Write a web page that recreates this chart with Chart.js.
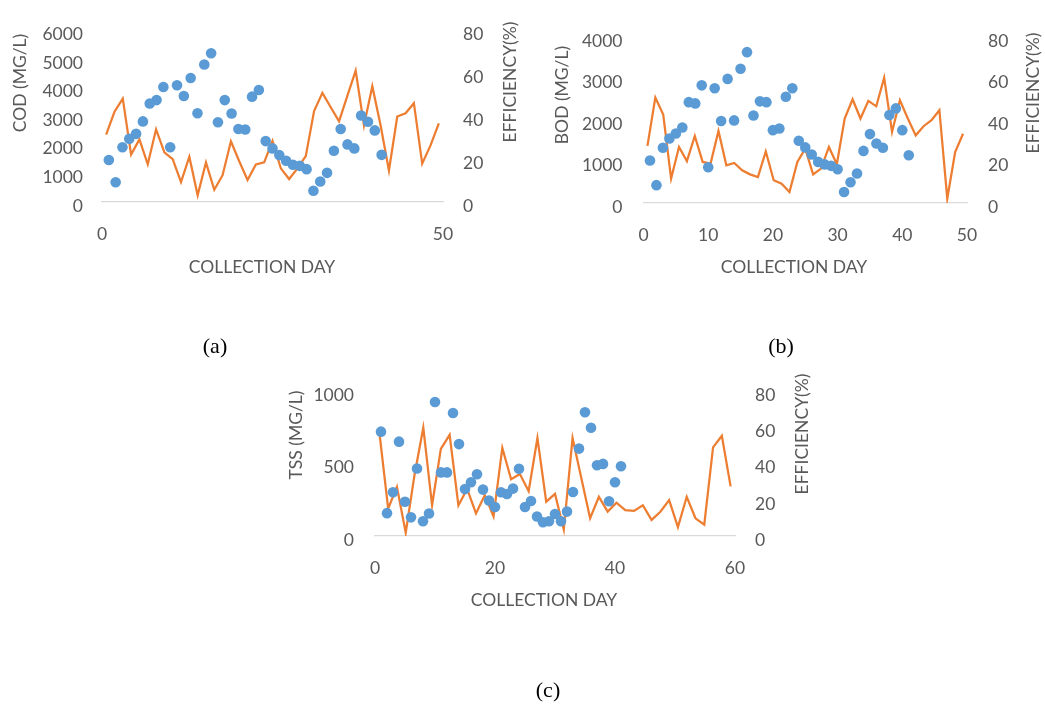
<!DOCTYPE html>
<html>
<head>
<meta charset="utf-8">
<script src="https://cdn.jsdelivr.net/npm/chart.js@4.4.0/dist/chart.umd.min.js"></script>
<style>
  body { margin: 0; background: #fff; width: 1045px; height: 704px; position: relative; overflow: hidden; }
  canvas { position: absolute; }
</style>
</head>
<body>
<canvas id="chartA" width="540" height="370" style="left:0px;top:0px"></canvas>
<canvas id="chartB" width="505" height="370" style="left:540px;top:0px"></canvas>
<canvas id="chartC" width="590" height="344" style="left:260px;top:360px"></canvas>
<script>
// collection days of the samples (scatter x) and the categories of the efficiency line
var days = [1,2,3,4,5,6,7,8,9,10,11,12,13,14,15,16,17,18,19,20,21,22,23,24,25,26,27,28,29,30,31,32,33,34,35,36,37,38,39,40,41];
var lineDays = ['1','2','3','4','5','6','7','8','9','10','11','12','13','14','15','16','17','18','19','20','21','22','23','24','25','26','27','28','29','30','31','32','33','34','35','36','37','38','39','40','41'];

var codValues = [1470, 690, 1915, 2210, 2385, 2820, 3445, 3565, 4025, 1915, 4085, 3710, 4340, 3105, 4810, 5205, 2790, 3565, 3095, 2555, 2535, 3685, 3920, 2130, 1875, 1640, 1445, 1305, 1265, 1150, 395, 715, 1020, 1795, 2555, 2015, 1875, 3025, 2810, 2505, 1650];
var codEfficiency = [31.4, 42.1, 48.2, 22.1, 29.2, 17.6, 33.9, 23.2, 20.0, 9.3, 21.1, 3.1, 18.4, 5.7, 12.5, 28.3, 19.0, 10.3, 17.5, 18.5, 28.5, 15.7, 10.7, 15.7, 21.4, 42.4, 50.9, 44.2, 37.6, 49.5, 61.3, 35.7, 54.0, 35.7, 14.7, 39.9, 41.4, 46.1, 17.9, 26.4, 36.7];

var bodValues = [1025, 430, 1330, 1555, 1675, 1820, 2430, 2400, 2835, 860, 2765, 1975, 2990, 1990, 3235, 3635, 2110, 2450, 2430, 1755, 1795, 2560, 2765, 1500, 1340, 1170, 990, 930, 895, 815, 265, 500, 710, 1255, 1660, 1435, 1330, 2120, 2280, 1755, 1150];
var bodEfficiency = [27.5, 50.8, 42.6, 11.8, 27.0, 20.2, 32.3, 19.8, 19.0, 34.7, 18.2, 19.3, 15.8, 13.8, 12.5, 24.8, 11.0, 9.3, 5.3, 19.8, 26.2, 13.8, 16.6, 27.0, 18.7, 40.7, 50.0, 40.7, 49.2, 46.6, 60.4, 34.2, 49.5, 40.7, 32.6, 37.0, 39.9, 44.7, 2.1, 24.6, 33.4];

var tssValues = [722, 158, 303, 653, 237, 129, 467, 102, 156, 927, 440, 440, 851, 636, 325, 372, 427, 321, 246, 201, 303, 291, 328, 465, 201, 242, 135, 95, 102, 152, 102, 169, 305, 605, 856, 749, 490, 499, 240, 372, 483];
var tssEfficiency = [57.3, 15.2, 27.1, 1.8, 33.8, 60.0, 17.0, 48.2, 56.0, 17.0, 26.0, 12.5, 22.6, 10.8, 48.8, 31.4, 34.3, 24.8, 54.2, 19.0, 23.3, 3.6, 54.2, 32.0, 9.8, 21.7, 13.5, 18.4, 14.3, 13.9, 17.0, 8.9, 13.4, 19.9, 4.9, 21.7, 9.8, 6.3, 49.1, 55.5, 27.5];

var blue = '#5B9BD5';
var orange = '#ED7D31';
var grey = '#595959';
var tickFont = { family: 'Lato', size: 17.5 };
var titleFont = '17.5px Lato';
var captionFont = '22px "Liberation Serif"';

// draws the axis titles and the (a)/(b)/(c) captions where the original has them
var freeText = {
  id: 'freeText',
  afterDraw: function(chart, args, opts) {
    var ctx = chart.ctx;
    opts.items.forEach(function(t) {
      ctx.save();
      ctx.translate(t.x, t.y);
      if (t.rot) ctx.rotate(-Math.PI / 2);
      ctx.font = t.caption ? captionFont : titleFont;
      ctx.fillStyle = t.caption ? '#000' : grey;
      ctx.textAlign = 'center';
      ctx.textBaseline = 'middle';
      ctx.fillText(t.text, 0, 0);
      ctx.restore();
    });
  }
};

function makePanel(id, p) {
  var points = days.map(function(d, i) { return { x: d, y: p.values[i] }; });
  new Chart(document.getElementById(id), {
    type: 'scatter',
    data: {
      datasets: [{
        label: p.name,
        data: points,
        backgroundColor: blue,
        borderWidth: 0,
        pointRadius: 5.3,
        xAxisID: 'x',
        yAxisID: 'y'
      }, {
        type: 'line',
        label: 'EFFICIENCY(%)',
        data: p.eff,
        borderColor: orange,
        borderWidth: 2.25,
        pointRadius: 0,
        tension: 0,
        fill: false,
        xAxisID: 'xc',
        yAxisID: 'yr'
      }]
    },
    options: {
      responsive: false,
      animation: false,
      events: [],
      layout: { padding: { top: p.top, left: 0, right: 0, bottom: 0 } },
      plugins: {
        legend: { display: false },
        tooltip: { enabled: false },
        freeText: { items: p.texts }
      },
      scales: {
        x: {
          type: 'linear', position: 'bottom', min: 0, max: p.xMax,
          ticks: { stepSize: p.xStep, padding: 22, font: tickFont, color: grey, maxRotation: 0, format: { useGrouping: false } },
          grid: { display: false, drawTicks: false },
          border: { color: '#d9d9d9', width: 1.3 },
          afterFit: function(s) { s.height = p.xH; }
        },
        xc: { type: 'category', labels: lineDays, offset: true, display: false },
        y: {
          position: 'left', min: 0, max: p.yMax,
          ticks: { stepSize: p.yStep, padding: p.padL, labelOffset: 4, font: tickFont, color: grey, format: { useGrouping: false } },
          grid: { display: false, drawTicks: false },
          border: { display: false },
          afterFit: function(s) { s.width = p.leftW; }
        },
        yr: {
          position: 'right', min: 0, max: 80,
          ticks: { stepSize: 20, padding: p.padR, labelOffset: 4, font: tickFont, color: grey },
          grid: { display: false, drawTicks: false },
          border: { display: false },
          afterFit: function(s) { s.width = p.rightW; }
        }
      }
    },
    plugins: [freeText]
  });
}

makePanel('chartA', {
  name: 'COD', values: codValues, eff: codEfficiency,
  yMax: 6000, yStep: 1000, xMax: 50, xStep: 50,
  top: 15, leftW: 102, rightW: 97, xH: 168, padL: 19, padR: 20,
  texts: [
    { text: 'COD (MG/L)', x: 20, y: 83, rot: true },
    { text: 'EFFICIENCY(%)', x: 510, y: 82, rot: true },
    { text: 'COLLECTION DAY', x: 262, y: 267 },
    { text: '(a)', x: 215, y: 347, caption: true }
  ]
});

makePanel('chartB', {
  name: 'BOD', values: bodValues, eff: bodEfficiency,
  yMax: 4000, yStep: 1000, xMax: 50, xStep: 10,
  top: 37, leftW: 103.5, rightW: 78, xH: 167, padL: 21, padR: 21,
  texts: [
    { text: 'BOD (MG/L)', x: 22.7, y: 95, rot: true },
    { text: 'EFFICIENCY(%)', x: 493, y: 93, rot: true },
    { text: 'COLLECTION DAY', x: 254, y: 267 },
    { text: '(b)', x: 241, y: 347, caption: true }
  ]
});

makePanel('chartC', {
  name: 'TSS', values: tssValues, eff: tssEfficiency,
  yMax: 1000, yStep: 500, xMax: 60, xStep: 20,
  top: 28, leftW: 115, rightW: 115, xH: 168, padL: 21, padR: 20,
  texts: [
    { text: 'TSS (MG/L)', x: 36, y: 75, rot: true },
    { text: 'EFFICIENCY(%)', x: 542.7, y: 74, rot: true },
    { text: 'COLLECTION DAY', x: 284, y: 240 },
    { text: '(c)', x: 288, y: 331, caption: true }
  ]
});
</script>
</body>
</html>
